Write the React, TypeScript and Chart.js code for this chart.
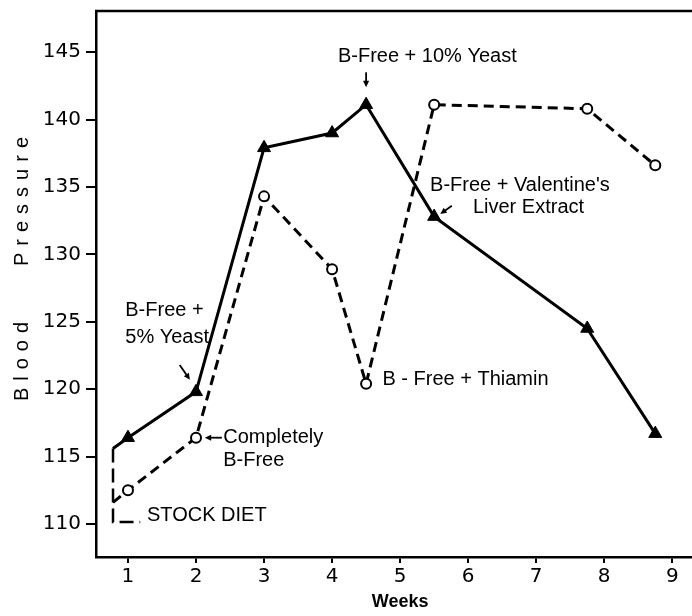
import React, { useEffect, useRef } from "react";
import { Chart, registerables } from "chart.js";

Chart.register(...registerables);

// ---- data ----
const weeks = [1, 2, 3, 4, 4.5, 5.5, 7.75, 8.75];
const yeastPressure = [116.4, 119.8, 137.9, 139.0, 141.1, 132.8, 124.5, 116.7];
const bFreePressure = [112.5, 116.4, 134.3, 128.9, 120.4, 141.1, 140.8, 136.6];
const stockWeek = 0.78;
const stockYeastStart = 115.6;
const stockBFreeStart = 111.6;
const stockBracketX = [0.78, 0.78, 1.18];
const stockBracketY = [115.6, 110.15, 110.15];

const xTicks = [1, 2, 3, 4, 5, 6, 7, 8, 9];
const yTicks = [110, 115, 120, 125, 130, 135, 140, 145];

const labelTexts = [
  "B-Free + 10% Yeast",
  "B-Free + Valentine's",
  "Liver Extract",
  "B-Free +",
  "5% Yeast",
  "Completely",
  "B-Free",
  "B - Free + Thiamin",
  "STOCK DIET",
];
const labelX = [5.4, 5.44, 6.07, 0.96, 0.96, 2.4, 2.4, 4.74, 1.28];
const labelY = [144.7, 135.1, 133.5, 125.8, 123.8, 116.4, 114.7, 120.7, 110.6];
const labelAlign = ["center", "left", "left", "left", "left", "left", "left", "left", "left"];

const arrowFromX = [4.5, 5.76, 1.76, 2.38];
const arrowFromY = [143.5, 133.6, 121.8, 116.4];
const arrowToX = [4.5, 5.59, 1.91, 2.13];
const arrowToY = [142.4, 133.0, 120.7, 116.4];

const FONT = '"Liberation Sans", Arial, sans-serif';
const TICK_FONT = '"DejaVu Sans", sans-serif';

const annotationPlugin = {
  id: "annotations",
  afterDraw(chart: any) {
    const { ctx, chartArea, scales } = chart;
    const xs = scales.x;
    const ys = scales.y;
    ctx.save();
    // top border
    ctx.strokeStyle = "#000";
    ctx.lineWidth = 2.5;
    ctx.beginPath();
    ctx.moveTo(chartArea.left - 1, chartArea.top);
    ctx.lineTo(chartArea.right, chartArea.top);
    ctx.stroke();

    ctx.fillStyle = "#000";

    // text labels
    ctx.font = `20px ${FONT}`;
    ctx.textBaseline = "middle";
    labelTexts.forEach((t, i) => {
      ctx.textAlign = labelAlign[i];
      ctx.fillText(t, xs.getPixelForValue(labelX[i]), ys.getPixelForValue(labelY[i]));
    });

    // arrows
    ctx.lineWidth = 1.8;
    arrowFromX.forEach((_, i) => {
      const x1 = xs.getPixelForValue(arrowFromX[i]);
      const y1 = ys.getPixelForValue(arrowFromY[i]);
      const x2 = xs.getPixelForValue(arrowToX[i]);
      const y2 = ys.getPixelForValue(arrowToY[i]);
      const ang = Math.atan2(y2 - y1, x2 - x1);
      const hl = 7;
      ctx.beginPath();
      ctx.moveTo(x1, y1);
      ctx.lineTo(x2 - Math.cos(ang) * 3, y2 - Math.sin(ang) * 3);
      ctx.stroke();
      ctx.beginPath();
      ctx.moveTo(x2, y2);
      ctx.lineTo(x2 - hl * Math.cos(ang - 0.45), y2 - hl * Math.sin(ang - 0.45));
      ctx.lineTo(x2 - hl * Math.cos(ang + 0.45), y2 - hl * Math.sin(ang + 0.45));
      ctx.closePath();
      ctx.fill();
    });

    // axis titles
    ctx.font = `bold 18px ${FONT}`;
    ctx.textAlign = "center";
    ctx.fillText("Weeks", xs.getPixelForValue(5), 602);

    ctx.font = `20px ${FONT}`;
    try {
      (ctx as any).letterSpacing = "7px";
    } catch (e) {}
    ctx.translate(22, 0);
    ctx.rotate(-Math.PI / 2);
    ctx.textAlign = "center";
    ctx.fillText("Blood", -358, 0);
    ctx.fillText("Pressure", -198, 0);
    ctx.restore();
  },
};

export default function App() {
  const canvasRef = useRef<HTMLCanvasElement | null>(null);

  useEffect(() => {
    if (!canvasRef.current) return;
    const solidData = [{ x: stockWeek, y: stockYeastStart }].concat(
      weeks.map((w, i) => ({ x: w, y: yeastPressure[i] }))
    );
    const dashedData = [{ x: stockWeek, y: stockBFreeStart }].concat(
      weeks.map((w, i) => ({ x: w, y: bFreePressure[i] }))
    );
    const bracketData = stockBracketX.map((x, i) => ({ x, y: stockBracketY[i] }));

    const chart = new Chart(canvasRef.current, {
      type: "scatter",
      data: {
        datasets: [
          {
            label: "B-Free + supplements",
            data: dashedData,
            showLine: true,
            borderColor: "#000",
            borderWidth: 3,
            borderDash: [10, 6],
            pointStyle: "circle",
            pointRadius: (c: any) => (c.dataIndex === 0 ? 0 : 5),
            pointBorderWidth: 2,
            pointBorderColor: "#000",
            pointBackgroundColor: "#fff",
          },
          {
            label: "Yeast series",
            data: solidData,
            showLine: true,
            borderColor: "#000",
            borderWidth: 3,
            pointStyle: "triangle",
            pointRadius: (c: any) => (c.dataIndex === 0 ? 0 : 7.5),
            pointBorderWidth: 1,
            pointBorderColor: "#000",
            pointBackgroundColor: "#000",
          },
          {
            label: "Stock diet",
            data: bracketData,
            showLine: true,
            borderColor: "#000",
            borderWidth: 2.5,
            borderDash: [14, 6],
            pointRadius: 0,
          },
        ],
      },
      options: {
        animation: false,
        responsive: false,
        devicePixelRatio: 1,
        layout: { autoPadding: false, padding: { top: 11, right: 0, left: 0, bottom: 0 } },
        plugins: {
          legend: { display: false },
          tooltip: { enabled: false },
        },
        scales: {
          x: {
            type: "linear",
            min: 0.53,
            max: 9.29,
            afterFit: (s: any) => {
              s.height = 59;
              s.paddingLeft = 0;
              s.paddingRight = 0;
            },
            afterBuildTicks: (s: any) => {
              s.ticks = xTicks.map((v) => ({ value: v }));
            },
            grid: {
              drawOnChartArea: false,
              drawTicks: true,
              tickLength: 6,
              color: "#000",
              lineWidth: 2,
            },
            border: { color: "#000", width: 2.5 },
            ticks: {
              color: "#000",
              padding: 2,
              maxRotation: 0,
              autoSkip: false,
              font: { family: TICK_FONT, size: 20 },
            },
          },
          y: {
            type: "linear",
            min: 107.55,
            max: 148.05,
            afterFit: (s: any) => {
              s.width = 96;
              s.paddingTop = 0;
              s.paddingBottom = 0;
            },
            afterBuildTicks: (s: any) => {
              s.ticks = yTicks.map((v) => ({ value: v }));
            },
            grid: {
              drawOnChartArea: false,
              drawTicks: true,
              tickLength: 10,
              color: "#000",
              lineWidth: 2,
            },
            border: { color: "#000", width: 2.5 },
            ticks: {
              color: "#000",
              padding: 5,
              font: { family: TICK_FONT, size: 20 },
            },
          },
        },
      },
      plugins: [annotationPlugin],
    } as any);
    return () => chart.destroy();
  }, []);

  return (
    <div style={{ position: "fixed", left: 0, top: 0, width: 692, height: 616, background: "#fff" }}>
      <canvas ref={canvasRef} width={692} height={616} style={{ display: "block" }} />
    </div>
  );
}
